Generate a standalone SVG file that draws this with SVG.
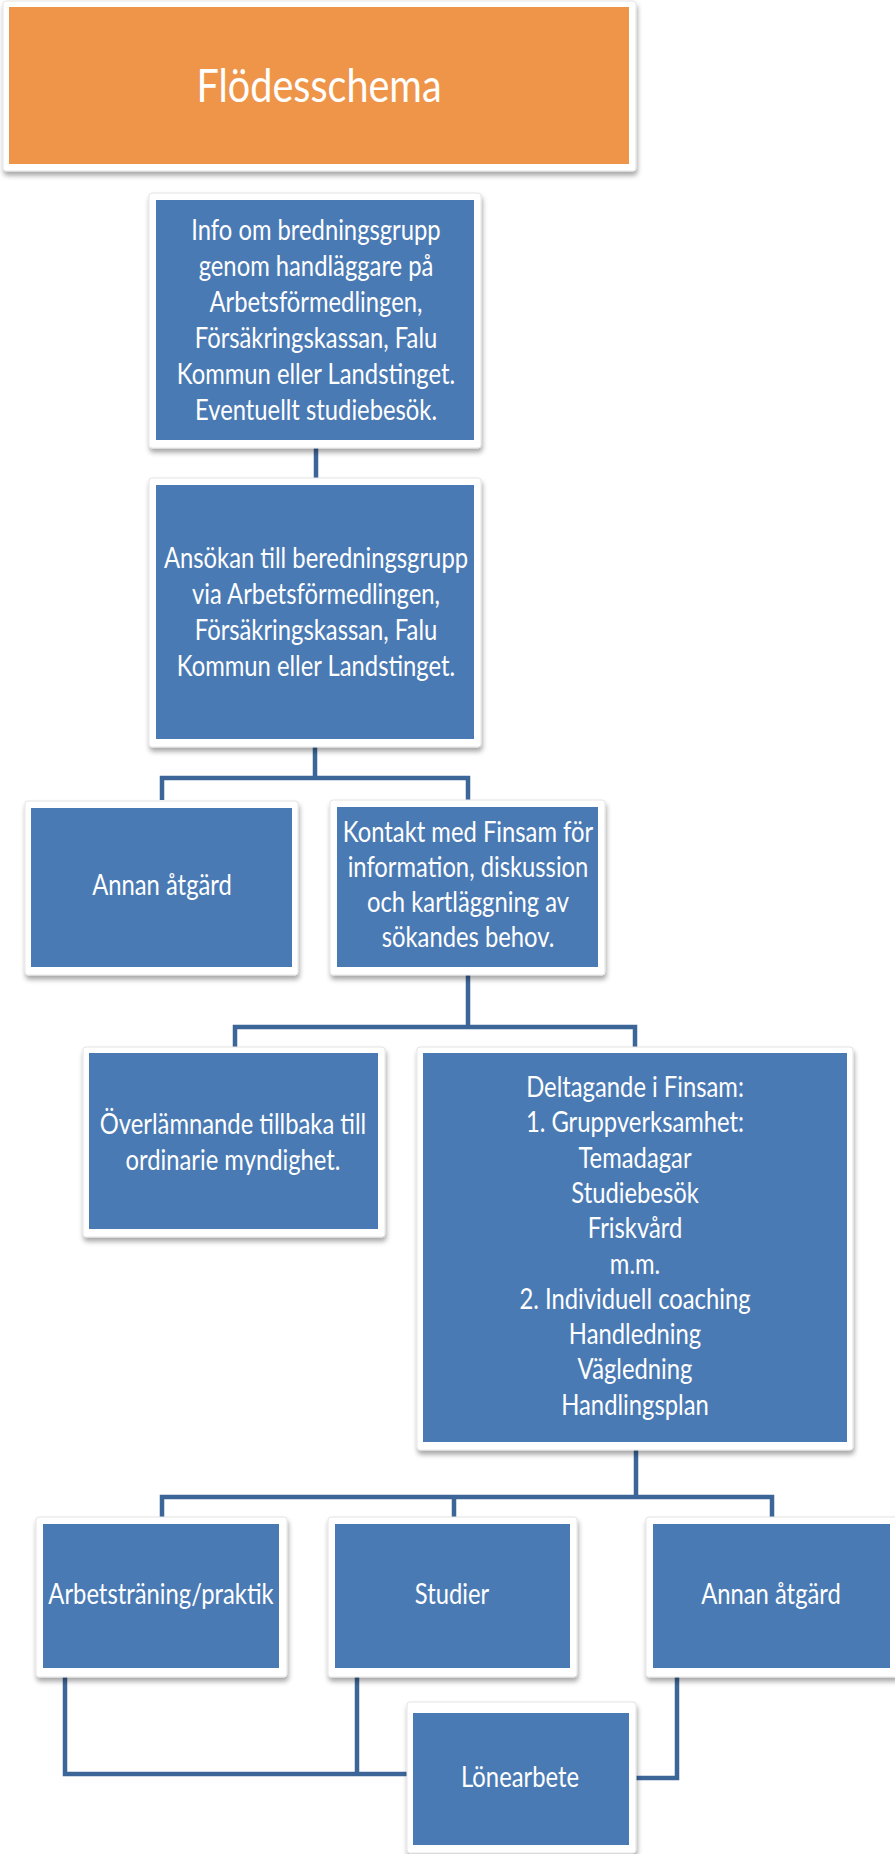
<svg xmlns="http://www.w3.org/2000/svg" width="895" height="1854" viewBox="0 0 895 1854">
<defs>
<filter id="sh" x="-10%" y="-10%" width="120%" height="125%">
<feDropShadow dx="1" dy="4" stdDeviation="2.5" flood-color="#000" flood-opacity="0.35"/>
</filter>
</defs>
<style>
.frame{fill:#fff;stroke:#e4e4e4;stroke-width:1;filter:url(#sh)}
.box{fill:#4a7ab4}
.ttl{fill:#ef954a}
.t{font-family:Lato,"Liberation Sans",sans-serif;font-size:28px;fill:#fff;text-anchor:middle}
.big{font-size:46px}
.c{fill:none;stroke:#3d6698;stroke-width:4.5;stroke-linejoin:miter}
</style>
<rect width="895" height="1854" fill="#fff"/>
<g id="connectors">
<path class="c" d="M316 446 V479"/>
<path class="c" d="M315 745 V778 M162 800 V778 H468 V800"/>
<path class="c" d="M468 973 V1027 M235 1049 V1027 H635 V1049"/>
<path class="c" d="M636 1448 V1497 M162 1519 V1497 H772 V1519 M454 1497 V1519"/>
<path class="c" d="M65 1675 V1774 H409 M357 1675 V1774"/>
<path class="c" d="M677 1675 V1778 H634"/>
</g>
<g id="title">
<rect class="frame" x="3" y="1" width="633" height="170" rx="3"/>
<rect class="ttl" x="9" y="7" width="620" height="157"/>
<g transform="translate(319,0) scale(0.86,1)"><text class="t big" x="0" y="102">Flödesschema</text></g>
</g>
<g id="info">
<rect class="frame" x="149" y="193" width="332" height="255" rx="3"/>
<rect class="box" x="156" y="200" width="318" height="240"/>
<g transform="translate(316,0) scale(0.85,1)">
<text class="t" x="0" y="240">Info om bredningsgrupp</text>
<text class="t" x="0" y="276">genom handläggare på</text>
<text class="t" x="0" y="312">Arbetsförmedlingen,</text>
<text class="t" x="0" y="348">Försäkringskassan, Falu</text>
<text class="t" x="0" y="384">Kommun eller Landstinget.</text>
<text class="t" x="0" y="420">Eventuellt studiebesök.</text>
</g>
</g>
<g id="ansokan">
<rect class="frame" x="149" y="478" width="332" height="269" rx="3"/>
<rect class="box" x="156" y="485" width="318" height="254"/>
<g transform="translate(316,0) scale(0.85,1)">
<text class="t" x="0" y="568">Ansökan till beredningsgrupp</text>
<text class="t" x="0" y="604">via Arbetsförmedlingen,</text>
<text class="t" x="0" y="640">Försäkringskassan, Falu</text>
<text class="t" x="0" y="676">Kommun eller Landstinget.</text>
</g>
</g>
<g id="annan1">
<rect class="frame" x="25" y="801" width="273" height="174" rx="3"/>
<rect class="box" x="31" y="808" width="261" height="159"/>
<g transform="translate(162,0) scale(0.85,1)"><text class="t" x="0" y="895">Annan åtgärd</text></g>
</g>
<g id="kontakt">
<rect class="frame" x="330" y="800" width="275" height="175" rx="3"/>
<rect class="box" x="337" y="807" width="261" height="160"/>
<g transform="translate(468,0) scale(0.85,1)">
<text class="t" x="0" y="842">Kontakt med Finsam för</text>
<text class="t" x="0" y="877">information, diskussion</text>
<text class="t" x="0" y="912">och kartläggning av</text>
<text class="t" x="0" y="947">sökandes behov.</text>
</g>
</g>
<g id="overlamnande">
<rect class="frame" x="83" y="1047" width="302" height="190" rx="3"/>
<rect class="box" x="89" y="1053" width="289" height="176"/>
<g transform="translate(233,0) scale(0.85,1)">
<text class="t" x="0" y="1134">Överlämnande tillbaka till</text>
<text class="t" x="0" y="1170">ordinarie myndighet.</text>
</g>
</g>
<g id="deltagande">
<rect class="frame" x="417" y="1047" width="436" height="403" rx="3"/>
<rect class="box" x="423" y="1053" width="424" height="389"/>
<g transform="translate(635,0) scale(0.85,1)">
<text class="t" x="0" y="1097">Deltagande i Finsam:</text>
<text class="t" x="0" y="1132">1. Gruppverksamhet:</text>
<text class="t" x="0" y="1168">Temadagar</text>
<text class="t" x="0" y="1203">Studiebesök</text>
<text class="t" x="0" y="1238">Friskvård</text>
<text class="t" x="0" y="1274">m.m.</text>
<text class="t" x="0" y="1309">2. Individuell coaching</text>
<text class="t" x="0" y="1344">Handledning</text>
<text class="t" x="0" y="1379">Vägledning</text>
<text class="t" x="0" y="1415">Handlingsplan</text>
</g>
</g>
<g id="arbetstraning">
<rect class="frame" x="36" y="1517" width="251" height="160" rx="3"/>
<rect class="box" x="43" y="1524" width="236" height="144"/>
<g transform="translate(161,0) scale(0.85,1)"><text class="t" x="0" y="1604">Arbetsträning/praktik</text></g>
</g>
<g id="studier">
<rect class="frame" x="328" y="1517" width="249" height="160" rx="3"/>
<rect class="box" x="335" y="1524" width="235" height="144"/>
<g transform="translate(452,0) scale(0.85,1)"><text class="t" x="0" y="1604">Studier</text></g>
</g>
<g id="annan2">
<rect class="frame" x="646" y="1517" width="252" height="160" rx="3"/>
<rect class="box" x="653" y="1524" width="237" height="144"/>
<g transform="translate(771,0) scale(0.85,1)"><text class="t" x="0" y="1604">Annan åtgärd</text></g>
</g>
<g id="lonearbete">
<rect class="frame" x="407" y="1702" width="229" height="151" rx="3"/>
<rect class="box" x="413" y="1713" width="216" height="132"/>
<g transform="translate(520,0) scale(0.85,1)"><text class="t" x="0" y="1787">Lönearbete</text></g>
</g>
</svg>
